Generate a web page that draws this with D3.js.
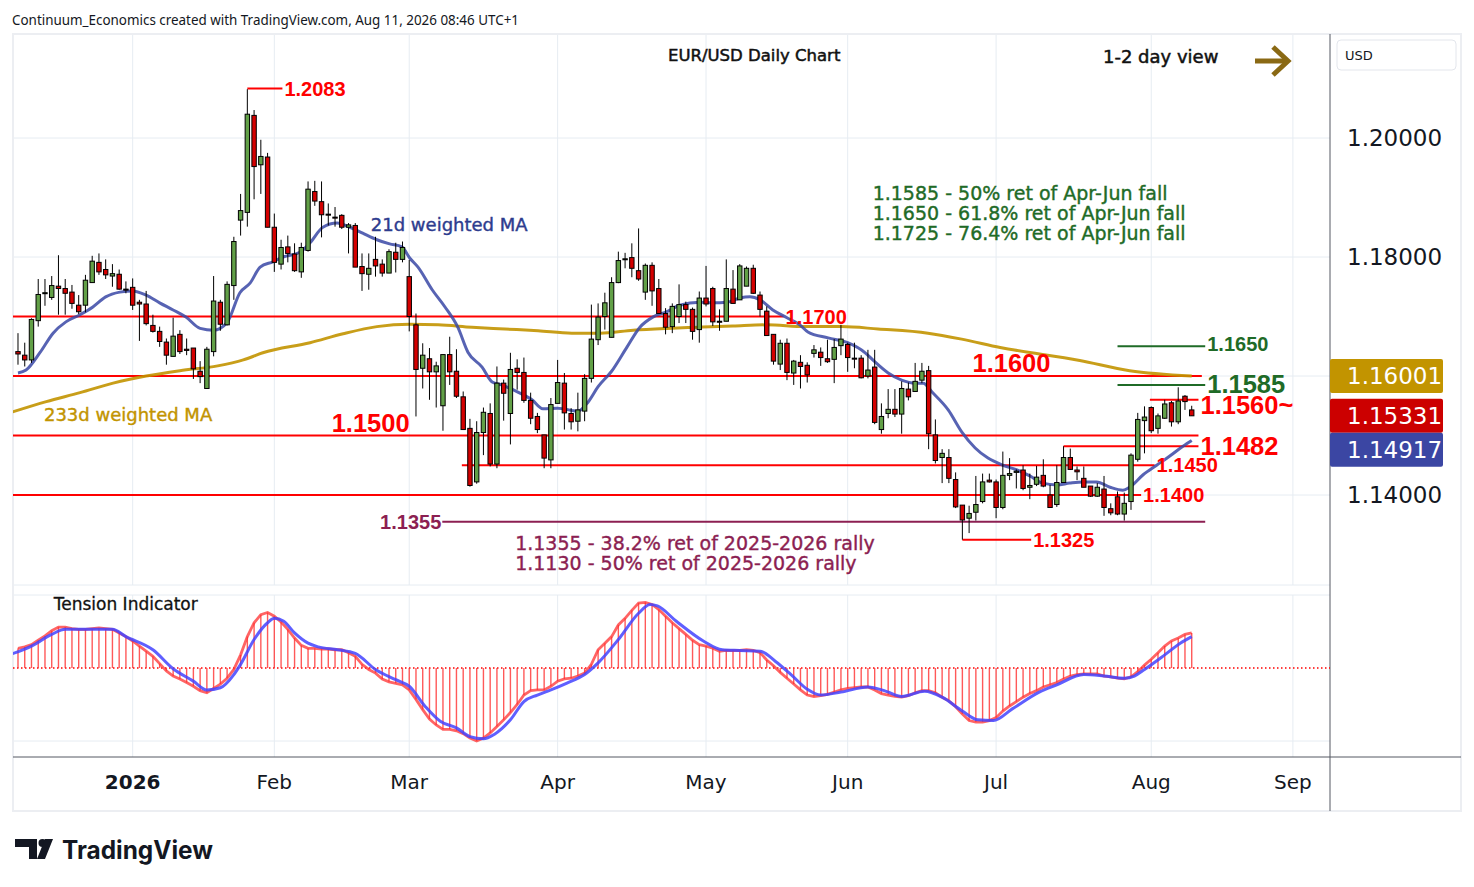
<!DOCTYPE html>
<html>
<head>
<meta charset="utf-8">
<title>EUR/USD Daily Chart</title>
<script src="https://d3js.org/d3.v7.min.js"></script>
<style>
  body { margin: 0; background: #fff; }
  svg { display: block; }
</style>
</head>
<body>
<svg id="chart" width="1474" height="887"></svg>
<script>
// ---- data (daily bars) ----
const startDate = "2025-12-08";
const holidays = ["2025-12-25", "2026-01-01"];

const opens = [1.1641,1.1635,1.1627,1.1693,1.1739,1.1732,1.1751,1.1747,1.1741,1.1719,
  1.1719,1.1757,1.1791,1.1779,1.1768,1.1771,1.1746,1.1749,1.1724,1.1721,
  1.1685,1.1675,1.1657,1.1633,1.1670,1.1645,1.1647,1.1608,1.1579,1.1641,
  1.1724,1.1686,1.1752,1.1862,1.1875,1.2038,1.1955,1.1968,1.1850,1.1788,
  1.1817,1.1805,1.1775,1.1811,1.1910,1.1893,1.1872,1.1867,1.1870,1.1850,
  1.1853,1.1784,1.1771,1.1796,1.1788,1.1773,1.1808,1.1796,1.1767,1.1686,
  1.1613,1.1629,1.1607,1.1550,1.1636,1.1608,1.1565,1.1512,1.1422,1.1505,
  1.1537,1.1452,1.1588,1.1537,1.1613,1.1606,1.1559,1.1532,1.1501,1.1459,
  1.1554,1.1588,1.1537,1.1524,1.1541,1.1596,1.1661,1.1700,1.1665,1.1757,
  1.1796,1.1799,1.1777,1.1741,1.1786,1.1747,1.1705,1.1683,1.1700,1.1720,
  1.1712,1.1678,1.1731,1.1747,1.1692,1.1692,1.1746,1.1728,1.1751,1.1781,
  1.1736,1.1709,1.1670,1.1620,1.1655,1.1605,1.1623,1.1618,1.1638,1.1640,
  1.1629,1.1628,1.1651,1.1653,1.1630,1.1630,1.1600,1.1615,1.1510,1.1537,
  1.1544,1.1536,1.1578,1.1574,1.1593,1.1609,1.1501,1.1463,1.1463,1.1426,
  1.1383,1.1361,1.1371,1.1389,1.1425,1.1422,1.1379,1.1433,1.1438,1.1442,
  1.1413,1.1418,1.1433,1.1400,1.1384,1.1421,1.1463,1.1442,1.1428,1.1415,
  1.1398,1.1410,1.1377,1.1397,1.1368,1.1389,1.1460,1.1525,1.1547,1.1512,
  1.1529,1.1555,1.1523,1.1566,1.1543];
const highs = [1.1672,1.1656,1.1697,1.1763,1.1763,1.1768,1.1803,1.1763,1.1753,1.1736,
  1.1770,1.1802,1.1806,1.1796,1.1788,1.1779,1.1759,1.1764,1.1728,1.1743,
  1.1703,1.1683,1.1663,1.1698,1.1677,1.1663,1.1647,1.1625,1.1649,1.1768,
  1.1728,1.1759,1.1834,1.1906,1.2082,1.2047,1.1997,1.1975,1.1873,1.1829,
  1.1836,1.1823,1.1824,1.1927,1.1928,1.1927,1.1890,1.1884,1.1872,1.1857,
  1.1857,1.1806,1.1806,1.1834,1.1796,1.1813,1.1824,1.1826,1.1795,1.1705,
  1.1655,1.1647,1.1624,1.1636,1.1666,1.1645,1.1574,1.1528,1.1524,1.1547,
  1.1554,1.1616,1.1594,1.1639,1.1628,1.1631,1.1572,1.1538,1.1501,1.1563,
  1.1627,1.1605,1.1546,1.1572,1.1603,1.1720,1.1722,1.1740,1.1766,1.1809,
  1.1807,1.1823,1.1848,1.1789,1.1791,1.1763,1.1714,1.1722,1.1754,1.1725,
  1.1715,1.1742,1.1785,1.1750,1.1712,1.1796,1.1778,1.1788,1.1784,1.1787,
  1.1742,1.1717,1.1670,1.1661,1.1663,1.1627,1.1635,1.1623,1.1652,1.1648,
  1.1661,1.1662,1.1686,1.1656,1.1656,1.1635,1.1644,1.1644,1.1554,1.1578,
  1.1578,1.1591,1.1589,1.1622,1.1622,1.1617,1.1527,1.1477,1.1477,1.1438,
  1.1383,1.1382,1.1432,1.1436,1.1436,1.1426,1.1473,1.1462,1.1443,1.1450,
  1.1436,1.1449,1.1460,1.1417,1.1450,1.1482,1.1478,1.1448,1.1448,1.1415,
  1.1420,1.1432,1.1386,1.1406,1.1404,1.1470,1.1538,1.1549,1.1549,1.1537,
  1.1560,1.1558,1.1581,1.1568,1.1550];
const lows = [1.1619,1.1616,1.1622,1.1683,1.1718,1.1728,1.1703,1.1703,1.1713,1.1704,
  1.1707,1.1757,1.1770,1.1763,1.1750,1.1745,1.1739,1.1711,1.1659,1.1685,
  1.1673,1.1649,1.1619,1.1633,1.1637,1.1635,1.1595,1.1588,1.1579,1.1633,
  1.1676,1.1685,1.1728,1.1836,1.1851,1.1897,1.1906,1.1850,1.1775,1.1779,
  1.1791,1.1775,1.1765,1.1809,1.1886,1.1833,1.1853,1.1851,1.1847,1.1806,
  1.1783,1.1743,1.1745,1.1767,1.1767,1.1773,1.1774,1.1791,1.1675,1.1532,
  1.1579,1.1560,1.1547,1.1508,1.1585,1.1563,1.1510,1.1414,1.1419,1.1467,
  1.1448,1.1445,1.1525,1.1485,1.1577,1.1555,1.1519,1.1504,1.1445,1.1445,
  1.1554,1.1510,1.1510,1.1507,1.1524,1.1589,1.1652,1.1678,1.1665,1.1756,
  1.1781,1.1766,1.1760,1.1728,1.1718,1.1705,1.1670,1.1672,1.1689,1.1689,
  1.1661,1.1656,1.1717,1.1684,1.1676,1.1692,1.1722,1.1728,1.1751,1.1738,
  1.1700,1.1668,1.1619,1.1610,1.1593,1.1585,1.1579,1.1589,1.1631,1.1617,
  1.1622,1.1588,1.1635,1.1607,1.1613,1.1596,1.1596,1.1519,1.1503,1.1529,
  1.1531,1.1503,1.1559,1.1574,1.1588,1.1477,1.1453,1.1420,1.1420,1.1378,
  1.1325,1.1336,1.1357,1.1386,1.1421,1.1361,1.1376,1.1425,1.1411,1.1408,
  1.1393,1.1415,1.1413,1.1379,1.1380,1.1421,1.1442,1.1425,1.1413,1.1397,
  1.1397,1.1365,1.1366,1.1366,1.1357,1.1375,1.1456,1.1470,1.1504,1.1503,
  1.1528,1.1515,1.1519,1.1543,1.15331];
const closes = [1.1637,1.1627,1.1695,1.1737,1.1740,1.1752,1.1747,1.1739,1.1722,1.1708,
  1.1761,1.1793,1.1775,1.1770,1.1772,1.1746,1.1745,1.1719,1.1721,1.1688,
  1.1675,1.1658,1.1635,1.1667,1.1641,1.1643,1.1612,1.1599,1.1645,1.1726,
  1.1687,1.1754,1.1826,1.1878,1.2040,1.1952,1.1969,1.1850,1.1791,1.1816,
  1.1806,1.1777,1.1816,1.1914,1.1894,1.1871,1.1871,1.1866,1.1850,1.1854,
  1.1783,1.1772,1.1781,1.1785,1.1773,1.1809,1.1796,1.1816,1.1700,1.1611,
  1.1635,1.1607,1.1617,1.1636,1.1607,1.1566,1.1510,1.1416,1.1505,1.1539,
  1.1452,1.1588,1.1571,1.1611,1.1606,1.1559,1.1529,1.1510,1.1462,1.1552,
  1.1589,1.1538,1.1523,1.1543,1.1596,1.1662,1.1699,1.1723,1.1757,1.1794,
  1.1797,1.1781,1.1763,1.1786,1.1743,1.1705,1.1682,1.1717,1.1720,1.1712,
  1.1675,1.1731,1.1721,1.1691,1.1691,1.1747,1.1722,1.1785,1.1781,1.1739,
  1.1712,1.1668,1.1625,1.1655,1.1606,1.1625,1.1616,1.1602,1.1644,1.1631,
  1.1624,1.1648,1.1662,1.1631,1.1629,1.1597,1.1610,1.1522,1.1532,1.1544,
  1.1536,1.1579,1.1565,1.1591,1.1608,1.1503,1.1458,1.1470,1.1428,1.1380,
  1.1358,1.1369,1.1384,1.1422,1.1422,1.1379,1.1433,1.1436,1.1440,1.1411,
  1.1416,1.1430,1.1415,1.1379,1.1421,1.1463,1.1443,1.1439,1.1413,1.1398,
  1.1413,1.1379,1.1370,1.1368,1.1386,1.1467,1.1527,1.1531,1.1508,1.1533,
  1.1553,1.1523,1.1558,1.1557,1.15331];

// 21d weighted MA (bar index, value)
const wma21Idx = [0,1.2,3.3,5.2,7.1,9.2,11.1,13,15.1,17,19,21,23,24.9,27,29,31,32.9,34.4,35.9,
  37.8,39.3,41.8,43.3,45.2,47.3,49.2,51.1,53.2,55.1,56.9,58.1,59.3,61.4,63.3,65.2,66.7,68.8,70.3,71.7,
  74.1,76.2,77.8,80,83,84.5,86,88,90.3,92.2,94.1,96.2,98.1,101.1,103,105.1,107,108.5,110,111.9,
  114,115.9,117.1,120.1,123,125.6,127,129,131,133,134.2,135.5,137.9,139.9,141.9,143.8,146,148.1,150,151.9,
  154,155.9,157.9,159.9,161.9,163.8,164.8,166.8,168.8,170.8,172.7,174];
const wma21 = [1.1605,1.1610,1.1640,1.1672,1.1691,1.1703,1.1716,1.1733,1.1741,1.1743,1.1736,1.1723,1.1711,1.1699,1.1680,1.1677,1.1690,1.1740,1.1756,1.1783,
  1.1792,1.1800,1.1808,1.1824,1.1850,1.1857,1.1850,1.1840,1.1829,1.1822,1.1817,1.1798,1.1783,1.1745,1.1716,1.1682,1.1640,1.1615,1.1590,1.1585,
  1.1573,1.1560,1.1545,1.1546,1.1541,1.1556,1.1582,1.1608,1.1649,1.1682,1.1699,1.1708,1.1719,1.1724,1.1723,1.1724,1.1731,1.1733,1.1728,1.1711,
  1.1698,1.1686,1.1674,1.1664,1.1656,1.1639,1.1624,1.1605,1.1593,1.1588,1.1588,1.1573,1.1543,1.1506,1.1479,1.1462,1.1450,1.1442,1.1432,1.1420,
  1.1417,1.1420,1.1422,1.1422,1.1413,1.1408,1.1413,1.1434,1.1450,1.1466,1.1482,1.14917];

// 233d weighted MA (bar index, value)
const wma233Idx = [-1,4.2,9.2,14.1,19,24,29.6,33.4,36.3,43.3,48.2,53.2,58.1,62.3,67.3,72.2,77.1,82.1,86.3,91.2,
  96.2,101.1,106,111,116.7,122.1,127.5,134.9,139.9,145.6,157.4,164.8,174];
const wma233 = [1.1539,1.1557,1.1572,1.1588,1.1600,1.1609,1.1617,1.1627,1.1639,1.1656,1.1671,1.1683,1.1687,1.1686,1.1682,1.1679,1.1676,1.1672,1.1672,1.1677,
  1.1680,1.1682,1.1684,1.1686,1.1683,1.1683,1.1679,1.1672,1.1662,1.1648,1.1626,1.1609,1.16001];

// Tension indicator, one value per bar, and its signal line (bar index, value)
const tension = [27,29,32,38,44,51,56,56,54,53, 53,54,55,54,53,48,43,37,30,23,
  16,6,-4,-11,-15,-20,-25,-31,-34,-28, -22,-14,-2,18,43,62,73,76,71,63,
  53,41,31,27,27,26,26,25,25,21, 16,5,-2,-7,-15,-19,-21,-23,-30,-43,
  -57,-70,-78,-84,-84,-86,-90,-96,-100,-96, -89,-80,-71,-61,-50,-37,-31,-30,-30,-25,
  -18,-15,-14,-11,-7,5,25,34,43,59, 68,79,89,90,87,80,71,62,54,46,
  38,32,30,27,23,24,24,24,25,24, 21,11,3,-6,-14,-22,-30,-37,-39,-38,
  -36,-33,-30,-28,-27,-26,-26,-30,-35,-37, -39,-40,-38,-34,-31,-31,-34,-40,-45,-53,
  -63,-72,-74,-74,-72,-68,-59,-52,-46,-40, -35,-31,-26,-23,-20,-15,-11,-9,-8,-8,
  -8,-11,-12,-14,-15,-12,-5,4,12,21, 30,37,41,46,48];
const signalIdx = [-1,2,5,7,11,14,16,20,23,26,28,30,32,33,35,37,38,39.4,41,43,44.5,47.4,50,53,56,58,60.4,62.6,65,67,
  69,70.6,73,75,77,79,81.3,84,86,89,92,93.7,94.8,97.6,101.6,104.4,107,110,112.3,114.6,117,119,122,126,128.7,131,134.4,137,140,142.3,
  144.6,147.4,151.4,154,158,161,164,165.5,167,170,172.3,174];
const signal = [19,30,46,53,53,53,43,25,-1,-18,-30,-27,-9,5,39,62,68,64,48,34,29,25,20,-2,-16,-25,-53,-73,-82,-94,
  -97,-91,-71,-46,-37,-30,-21,-9,7,39,75,87,85,64,37,25,24,23,9,-9,-29,-37,-33,-26,-32,-39,-32,-40,-59,-71,
  -72,-56,-33,-23,-9,-11,-14,-11,-2,18,34,43];

const priceTicks = [1.20, 1.18, 1.14];

// support / resistance lines: price, first and last bar index
const redLevels = [
  { p: 1.1700, a: -1, b: 113.5, label: "1.1700", big: false, pos: "end" },
  { p: 1.1600, a: -1, b: 175.5, label: "1.1600", big: true, pos: "above", at: 141.5 },
  { p: 1.1500, a: -1, b: 175, label: "1.1500", big: true, pos: "above", at: 46.5 },
  { p: 1.1450, a: 65.8, b: 168.5, label: "1.1450", big: false, pos: "end" },
  { p: 1.1400, a: -1, b: 166.5, label: "1.1400", big: false, pos: "end" },
  { p: 1.1482, a: 155, b: 175, label: "1.1482", big: true, pos: "end" },
  { p: 1.1560, a: 167.8, b: 175, label: "1.1560~", big: true, pos: "end", shift: 5 },
  { p: 1.2083, a: 34, b: 39.2, label: "1.2083", big: false, pos: "end" },
  { p: 1.1325, a: 140, b: 150.2, label: "1.1325", big: false, pos: "end" }
];
const greenLevels = [
  { p: 1.1650, a: 163, b: 176, label: "1.1650", big: false },
  { p: 1.1585, a: 163, b: 176, label: "1.1585", big: true }
];
const maroonLevel = { p: 1.1355, a: 62.9, b: 176, label: "1.1355" };

const greenNotes = ["1.1585 - 50% ret of Apr-Jun fall", "1.1650 - 61.8% ret of Apr-Jun fall", "1.1725 - 76.4% ret of Apr-Jun fall"];
const maroonNotes = ["1.1355 - 38.2% ret of 2025-2026 rally", "1.1130 - 50% ret of 2025-2026 rally"];

// ---- trading-day calendar ----
const fmtDay = d3.utcFormat("%Y-%m-%d");
const days = [];
for (let d = new Date(startDate + "T00:00:00Z"); days.length < 200; d = d3.utcDay.offset(d, 1)) {
  const wd = d.getUTCDay();
  if (wd !== 0 && wd !== 6 && !holidays.includes(fmtDay(d))) days.push(d);
}
const monthStarts = d3.range(1, days.length).filter(i => days[i].getUTCMonth() !== days[i - 1].getUTCMonth());

// ---- layout ----
const L = 13, R = 1330, TOP = 34, MAINB = 585, TTOP = 595, TBOT = 757, FRAMEB = 811;
const svg = d3.select("#chart");
const x = d3.scaleLinear().domain([-0.74, 194.5]).range([L, R]);
const y = d3.scaleLinear().domain([1.14, 1.20]).range([495, 138]);
const ty = d3.scaleLinear().domain([-100, 100]).range([741, 595]);

const GREEN_TXT = "#1f6b27", MAROON = "#8c1f52", RED = "#ff0000", BLUE_MA = "#3a48a6", GOLD = "#c29400";
const numFont = "'Liberation Sans', Arial, sans-serif";
const txtFont = "'DejaVu Sans', Verdana, sans-serif";

svg.append("rect").attr("width", 1474).attr("height", 887).attr("fill", "#fff");

const defs = svg.append("defs");
defs.append("clipPath").attr("id", "mainClip").append("rect")
  .attr("x", L).attr("y", TOP).attr("width", R - L).attr("height", MAINB - TOP);
defs.append("clipPath").attr("id", "tenClip").append("rect")
  .attr("x", L).attr("y", TTOP - 2).attr("width", R - L).attr("height", TBOT - TTOP + 2);

// grid
const grid = svg.append("g").attr("stroke", "#e6ecf2").attr("stroke-width", 1);
monthStarts.forEach(i => {
  if (x(i) > R) return;
  grid.append("line").attr("x1", x(i)).attr("x2", x(i)).attr("y1", TOP).attr("y2", MAINB);
  grid.append("line").attr("x1", x(i)).attr("x2", x(i)).attr("y1", TTOP).attr("y2", TBOT);
});
[1.20, 1.18, 1.16, 1.14].forEach(p => {
  grid.append("line").attr("x1", L).attr("x2", R).attr("y1", y(p)).attr("y2", y(p));
});
[100, -100].forEach(v => grid.append("line").attr("x1", L).attr("x2", R).attr("y1", ty(v)).attr("y2", ty(v)));
grid.append("line").attr("x1", L).attr("x2", R).attr("y1", MAINB).attr("y2", MAINB);

// frame & separators
svg.append("rect").attr("x", L).attr("y", TOP).attr("width", 1461 - L).attr("height", FRAMEB - TOP)
  .attr("fill", "none").attr("stroke", "#eceef2").attr("stroke-width", 2);
svg.append("line").attr("x1", R).attr("x2", R).attr("y1", TOP).attr("y2", FRAMEB).attr("stroke", "#555862");
svg.append("line").attr("x1", L).attr("x2", 1461).attr("y1", TBOT).attr("y2", TBOT).attr("stroke", "#555862");

// ---- main pane ----
const main = svg.append("g").attr("clip-path", "url(#mainClip)");

// level lines
redLevels.forEach(l => main.append("line").attr("x1", x(l.a)).attr("x2", x(l.b))
  .attr("y1", y(l.p)).attr("y2", y(l.p)).attr("stroke", RED).attr("stroke-width", 2));
greenLevels.forEach(l => main.append("line").attr("x1", x(l.a)).attr("x2", x(l.b))
  .attr("y1", y(l.p)).attr("y2", y(l.p)).attr("stroke", GREEN_TXT).attr("stroke-width", 2));
main.append("line").attr("x1", x(maroonLevel.a)).attr("x2", x(maroonLevel.b))
  .attr("y1", y(maroonLevel.p)).attr("y2", y(maroonLevel.p)).attr("stroke", MAROON).attr("stroke-width", 2);

// moving averages
const maLine = d3.line().curve(d3.curveMonotoneX).x(d => x(d[0])).y(d => y(d[1]));
main.append("path").attr("d", maLine(d3.zip(wma233Idx, wma233)))
  .attr("fill", "none").attr("stroke", GOLD).attr("stroke-width", 3).attr("stroke-opacity", 0.9);
main.append("path").attr("d", maLine(d3.zip(wma21Idx, wma21)))
  .attr("fill", "none").attr("stroke", BLUE_MA).attr("stroke-width", 3).attr("stroke-opacity", 0.85);

// candles
const bars = d3.range(opens.length);
const cg = main.append("g");
cg.selectAll("line.wick").data(bars).join("line").attr("class", "wick")
  .attr("x1", i => x(i)).attr("x2", i => x(i))
  .attr("y1", i => y(highs[i])).attr("y2", i => y(lows[i]))
  .attr("stroke", "#000").attr("stroke-width", 1);
cg.selectAll("rect.body").data(bars).join("rect").attr("class", "body")
  .attr("x", i => x(i) - 2.2).attr("width", 4.4)
  .attr("y", i => y(Math.max(opens[i], closes[i])))
  .attr("height", i => Math.max(1, Math.abs(y(opens[i]) - y(closes[i]))))
  .attr("fill", i => closes[i] >= opens[i] ? "#62a047" : "#d40000")
  .attr("stroke", "#000").attr("stroke-width", 1);

// level labels
const labelG = svg.append("g").attr("font-family", numFont).attr("font-weight", "bold");
redLevels.forEach(l => {
  const t = labelG.append("text").text(l.label).attr("fill", RED)
    .attr("font-size", l.big ? 25.5 : 20);
  if (l.pos === "above") t.attr("x", x(l.at)).attr("y", y(l.p) - 4);
  else t.attr("x", x(l.b) + 2).attr("y", y(l.p) + (l.shift || 0)).attr("dy", "0.36em");
});
greenLevels.forEach(l => labelG.append("text").text(l.label).attr("fill", GREEN_TXT)
  .attr("font-size", l.big ? 25.5 : 20).attr("x", x(l.b) + 2).attr("y", y(l.p) - (l.big ? 1 : 2)).attr("dy", "0.36em"));
labelG.append("text").text(maroonLevel.label).attr("fill", MAROON).attr("font-size", 20)
  .attr("text-anchor", "end").attr("x", x(maroonLevel.a) - 1).attr("y", y(maroonLevel.p)).attr("dy", "0.36em");

// notes
const noteG = svg.append("g").attr("font-family", txtFont).attr("font-size", 19);
greenNotes.forEach((s, k) => noteG.append("text").text(s).attr("fill", GREEN_TXT)
  .attr("stroke", GREEN_TXT).attr("stroke-width", 0.4)
  .attr("x", x(126.7)).attr("y", y(1.19076) + k * 20).attr("dy", "0.36em"));
maroonNotes.forEach((s, k) => noteG.append("text").text(s).attr("fill", MAROON)
  .attr("stroke", MAROON).attr("stroke-width", 0.4)
  .attr("x", x(73.7)).attr("y", y(1.13193) + k * 20).attr("dy", "0.36em"));
noteG.append("text").text("21d weighted MA").attr("fill", "#2d3c8e").attr("font-size", 18)
  .attr("stroke", "#2d3c8e").attr("stroke-width", 0.4)
  .attr("x", x(52.3)).attr("y", y(1.18538)).attr("dy", "0.36em");
noteG.append("text").text("233d weighted MA").attr("fill", GOLD).attr("font-size", 18)
  .attr("stroke", GOLD).attr("stroke-width", 0.4)
  .attr("x", x(3.85)).attr("y", y(1.15345)).attr("dy", "0.36em");

// ---- tension pane ----
const ten = svg.append("g").attr("clip-path", "url(#tenClip)");
ten.append("line").attr("x1", L).attr("x2", R).attr("y1", ty(0)).attr("y2", ty(0))
  .attr("stroke", RED).attr("stroke-width", 1.5).attr("stroke-dasharray", "1.5,2.5");
ten.selectAll("line.hist").data(bars).join("line").attr("class", "hist")
  .attr("x1", i => x(i)).attr("x2", i => x(i))
  .attr("y1", ty(0)).attr("y2", i => ty(tension[i]))
  .attr("stroke", "#ff3030").attr("stroke-opacity", 0.8).attr("stroke-width", 1.4);
ten.append("path").attr("d", d3.line().x((d, i) => x(i)).y(d => ty(d))(tension))
  .attr("fill", "none").attr("stroke", "#ff3030").attr("stroke-opacity", 0.75).attr("stroke-width", 2.8);
ten.append("path").attr("d", d3.line().curve(d3.curveMonotoneX).x(d => x(d[0])).y(d => ty(d[1]))(d3.zip(signalIdx, signal)))
  .attr("fill", "none").attr("stroke", "#4343ff").attr("stroke-opacity", 0.85).attr("stroke-width", 3);
svg.append("text").text("Tension Indicator").attr("x", x(5.3)).attr("y", ty(87.7)).attr("dy", "0.36em")
  .attr("font-family", txtFont).attr("font-size", 17).attr("fill", "#111")
  .attr("stroke", "#111").attr("stroke-width", 0.3);

// ---- time axis ----
const tx = svg.append("g").attr("font-family", txtFont).attr("font-size", 20).attr("fill", "#131722")
  .attr("text-anchor", "middle");
monthStarts.forEach(i => {
  if (x(i) > R - 10) return;
  const d = days[i];
  const isYear = d.getUTCMonth() === 0;
  tx.append("text").attr("x", x(i)).attr("y", 789)
    .attr("font-weight", isYear ? "bold" : "normal")
    .text(isYear ? d3.utcFormat("%Y")(d) : d3.utcFormat("%b")(d));
});

// ---- price axis ----
const px = svg.append("g").attr("font-family", txtFont).attr("font-size", 23);
priceTicks.forEach(p => px.append("text").attr("x", 1347).attr("y", y(p)).attr("dy", "0.36em")
  .attr("fill", "#131722").text(d3.format(".5f")(p)));
svg.append("rect").attr("x", 1337).attr("y", 40).attr("width", 119).attr("height", 30).attr("rx", 4)
  .attr("fill", "#fff").attr("stroke", "#e3e6ec");
svg.append("text").attr("x", 1345).attr("y", 55).attr("dy", "0.36em").text("USD")
  .attr("font-family", txtFont).attr("font-size", 13).attr("fill", "#131722");

const lastTags = [
  { v: wma233[wma233.length - 1], color: GOLD },
  { v: closes[closes.length - 1], color: "#cc0000" },
  { v: wma21[wma21.length - 1], color: "#3b46a3" }
];
let prevY = -Infinity;
lastTags.forEach(t => {
  const cy = Math.max(y(t.v), prevY + 34);
  prevY = cy;
  svg.append("rect").attr("x", R).attr("y", cy - 17).attr("width", 113).attr("height", 34)
    .attr("rx", 2).attr("fill", t.color);
  svg.append("text").attr("x", 1347).attr("y", cy).attr("dy", "0.36em").text(d3.format(".5f")(t.v))
    .attr("font-family", txtFont).attr("font-size", 23).attr("fill", "#fff");
});

// ---- header, title ----
svg.append("text").attr("x", 12).attr("y", 20).attr("dy", "0.36em")
  .text("Continuum_Economics created with TradingView.com, Aug 11, 2026 08:46 UTC+1")
  .attr("font-family", "'Noto Sans', sans-serif").attr("font-size", 14).attr("fill", "#131722")
  .attr("textLength", 507).attr("lengthAdjust", "spacingAndGlyphs");
svg.append("text").attr("x", 668).attr("y", 55).attr("dy", "0.36em").text("EUR/USD Daily Chart")
  .attr("font-family", txtFont).attr("font-size", 16.5).attr("fill", "#111")
  .attr("stroke", "#111").attr("stroke-width", 0.5);
svg.append("text").attr("x", 1103).attr("y", 57).attr("dy", "0.36em").text("1-2 day view")
  .attr("font-family", txtFont).attr("font-size", 18).attr("fill", "#111")
  .attr("stroke", "#111").attr("stroke-width", 0.5);
// arrow
const arrow = svg.append("g").attr("stroke", "#8a6914").attr("stroke-width", 5).attr("fill", "none")
  .attr("stroke-linecap", "butt");
arrow.append("line").attr("x1", 1255).attr("x2", 1287).attr("y1", 61).attr("y2", 61);
arrow.append("polyline").attr("points", "1273,47 1288,61 1273,75");

// ---- TradingView logo ----
const logo = svg.append("g").attr("fill", "#131722");
logo.append("path").attr("d", "M15,839 H37 V859 H29 V847 H15 Z");
logo.append("circle").attr("cx", 42.5).attr("cy", 843).attr("r", 4);
logo.append("path").attr("d", "M45,839 H53 L45,859 H37 Z");
svg.append("text").attr("x", 62).attr("y", 859).text("TradingView")
  .attr("font-family", "Inter, 'Noto Sans', sans-serif").attr("font-weight", "bold").attr("font-size", 25)
  .attr("fill", "#131722").attr("textLength", 151).attr("lengthAdjust", "spacingAndGlyphs");
</script>
</body>
</html>
